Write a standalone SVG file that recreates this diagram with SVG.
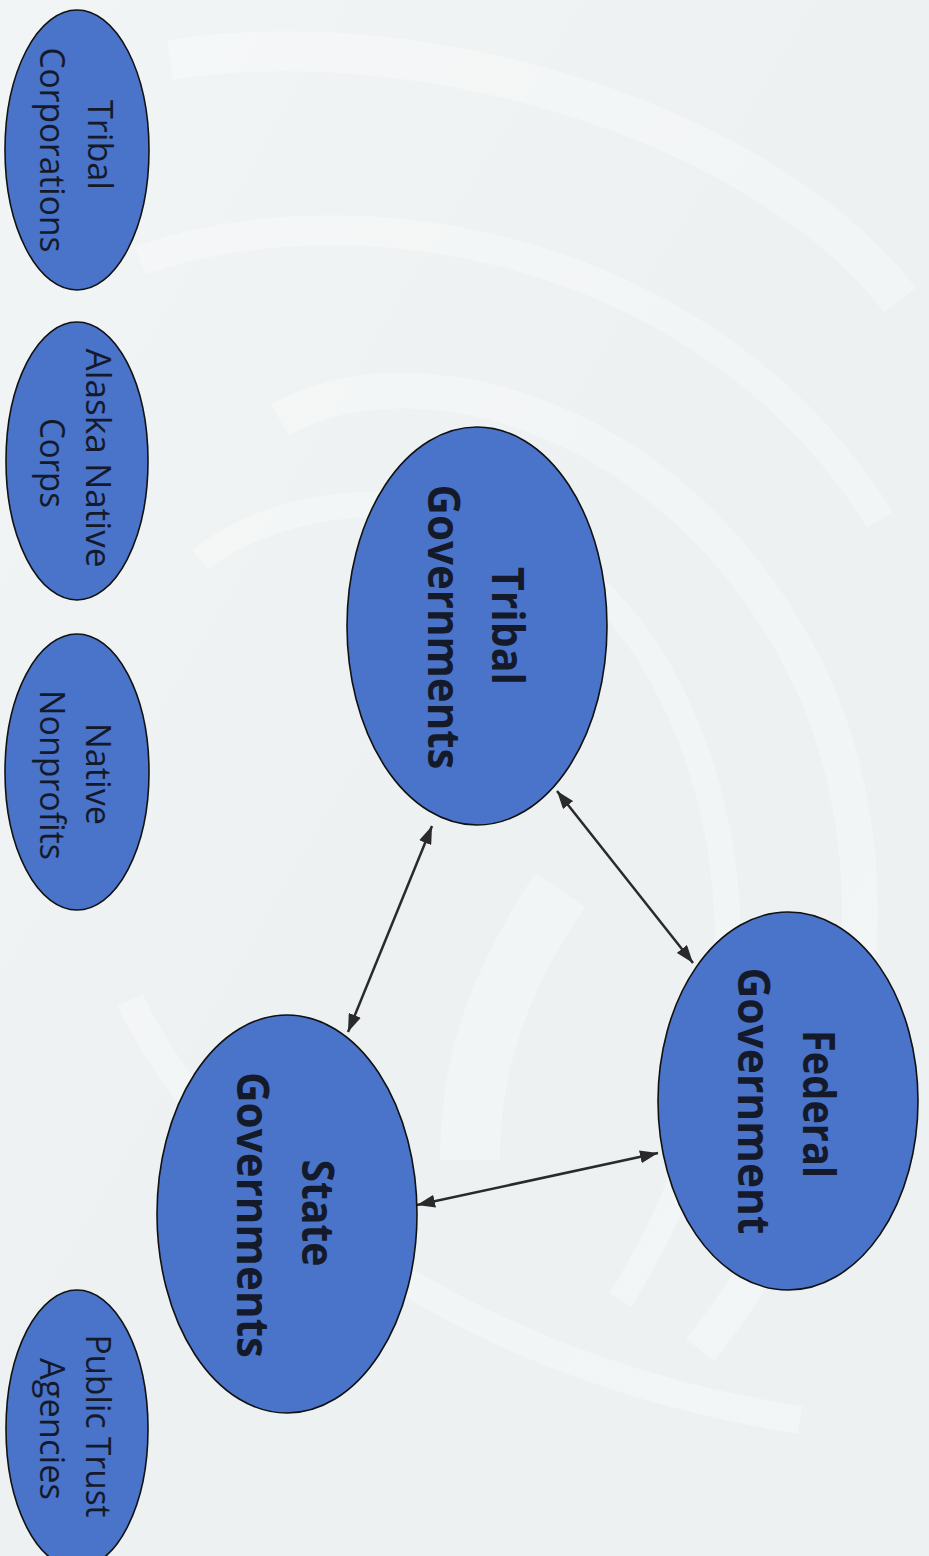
<svg xmlns="http://www.w3.org/2000/svg" width="929" height="1556" viewBox="0 0 929 1556">
  <style>
    .node { fill: #4a73ca; stroke: #111; stroke-width: 1.6; }
    .sm { font-family: "Open Sans", "Liberation Sans", sans-serif; font-size: 35px; fill: #141a2a; text-anchor: middle; }
    .lg { font-family: "Open Sans", "Liberation Sans", sans-serif; font-size: 44px; font-weight: bold; fill: #141a2a; text-anchor: middle; }
    .conn { stroke: #2a2a2a; stroke-width: 2.5; fill: none; marker-start: url(#ah); marker-end: url(#ah); }
    .swirl { fill: none; stroke: #ffffff; stroke-opacity: 0.3; }
  </style>
  <defs>
    <marker id="ah" viewBox="0 0 18 13" refX="18" refY="6.5" markerWidth="18" markerHeight="13" markerUnits="userSpaceOnUse" orient="auto-start-reverse">
      <path d="M0,0 L18,6.5 L0,13 Z" fill="#2a2a2a"/>
    </marker>
    <linearGradient id="bg" x1="0" y1="0" x2="1" y2="1">
      <stop offset="0" stop-color="#f2f5f6"/>
      <stop offset="0.5" stop-color="#edf1f2"/>
      <stop offset="1" stop-color="#eef1f2"/>
    </linearGradient>
  </defs>

  <g id="background">
    <rect x="0" y="0" width="929" height="1556" fill="url(#bg)"/>
    <path class="swirl" stroke-width="40" d="M170,60 C420,20 760,120 900,300"/>
    <path class="swirl" stroke-width="30" d="M140,260 C380,180 720,260 880,520"/>
    <path class="swirl" stroke-width="36" d="M280,420 C420,340 700,420 820,700 C900,900 860,1150 700,1350"/>
    <path class="swirl" stroke-width="26" d="M200,560 C300,480 520,470 640,640 C760,820 760,1080 620,1300"/>
    <path class="swirl" stroke-width="60" stroke-opacity="0.55" d="M560,890 C500,980 470,1060 470,1160"/>
    <path class="swirl" stroke-width="28" d="M130,1000 C200,1150 420,1360 800,1420"/>
  </g>

  <g id="connectors">
    <path class="conn" d="M432,826 L348,1032"/>
    <path class="conn" d="M557,791 L693,963"/>
    <path class="conn" d="M417,1205 L658,1153"/>
  </g>

  <g id="tribal-corporations">
    <ellipse class="node" cx="77" cy="150" rx="72" ry="140"/>
    <text class="sm" transform="translate(88,145) rotate(90)" textLength="90" lengthAdjust="spacingAndGlyphs">Tribal</text>
    <text class="sm" transform="translate(40,150) rotate(90)" textLength="205" lengthAdjust="spacingAndGlyphs">Corporations</text>
  </g>

  <g id="alaska-native-corps">
    <ellipse class="node" cx="77" cy="461" rx="71" ry="139"/>
    <text class="sm" transform="translate(86,458) rotate(90)" textLength="219" lengthAdjust="spacingAndGlyphs">Alaska Native</text>
    <text class="sm" transform="translate(40,463) rotate(90)" textLength="90" lengthAdjust="spacingAndGlyphs">Corps</text>
  </g>

  <g id="native-nonprofits">
    <ellipse class="node" cx="77" cy="772" rx="72" ry="138"/>
    <text class="sm" transform="translate(86,774) rotate(90)" textLength="102" lengthAdjust="spacingAndGlyphs">Native</text>
    <text class="sm" transform="translate(40,775) rotate(90)" textLength="170" lengthAdjust="spacingAndGlyphs">Nonprofits</text>
  </g>

  <g id="public-trust-agencies">
    <ellipse class="node" cx="77" cy="1429" rx="71" ry="139"/>
    <text class="sm" transform="translate(86,1426) rotate(90)" textLength="183" lengthAdjust="spacingAndGlyphs">Public Trust</text>
    <text class="sm" transform="translate(40,1429) rotate(90)" textLength="142" lengthAdjust="spacingAndGlyphs">Agencies</text>
  </g>

  <g id="tribal-governments">
    <ellipse class="node" cx="477" cy="626" rx="130" ry="199"/>
    <text class="lg" transform="translate(492,626) rotate(90)" textLength="118" lengthAdjust="spacingAndGlyphs">Tribal</text>
    <text class="lg" transform="translate(428,627) rotate(90)" textLength="285" lengthAdjust="spacingAndGlyphs">Governments</text>
  </g>

  <g id="federal-government">
    <ellipse class="node" cx="788" cy="1101" rx="130" ry="189"/>
    <text class="lg" transform="translate(803,1104) rotate(90)" textLength="148" lengthAdjust="spacingAndGlyphs">Federal</text>
    <text class="lg" transform="translate(738,1101) rotate(90)" textLength="267" lengthAdjust="spacingAndGlyphs">Government</text>
  </g>

  <g id="state-governments">
    <ellipse class="node" cx="287" cy="1214" rx="130" ry="199"/>
    <text class="lg" transform="translate(302,1213) rotate(90)" textLength="107" lengthAdjust="spacingAndGlyphs">State</text>
    <text class="lg" transform="translate(237,1215) rotate(90)" textLength="286" lengthAdjust="spacingAndGlyphs">Governments</text>
  </g>
</svg>
